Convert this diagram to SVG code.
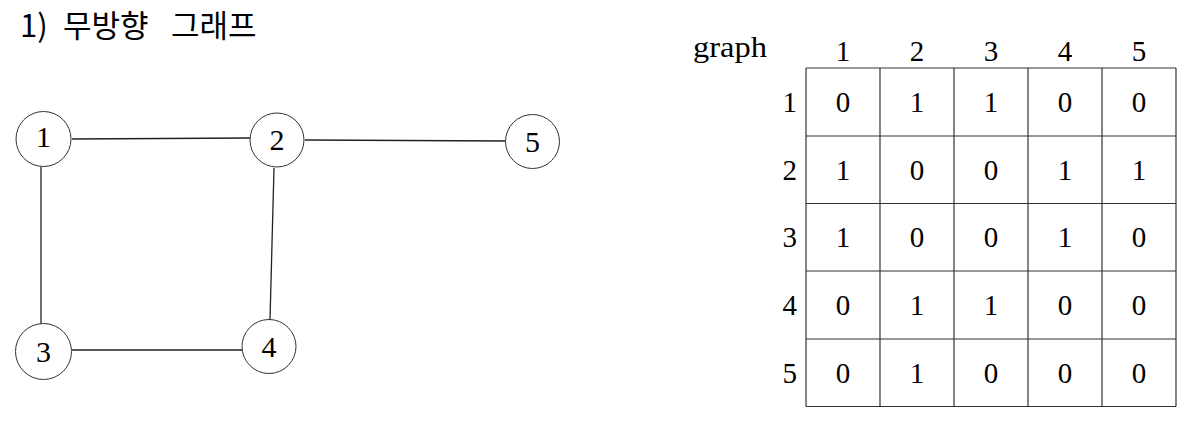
<svg xmlns="http://www.w3.org/2000/svg" width="1198" height="422" viewBox="0 0 1198 422">
<style>
.title{font-family:"Noto Sans CJK KR","Noto Sans",sans-serif;font-size:31px;fill:#000}
.node circle{fill:#fff;stroke:#333;stroke-width:1}
.lbl{font-family:"Liberation Serif","DejaVu Serif",serif;font-size:30px;fill:#000;text-anchor:middle}
.edges line{stroke:#222;stroke-width:1.3}
.grid line{stroke:#333;stroke-width:1.2}
.cell{font-family:"Liberation Serif","DejaVu Serif",serif;font-size:29px;fill:#000;text-anchor:middle}
.hd{font-size:29px}
.rh{text-anchor:end}
</style>
<rect width="1198" height="422" fill="#fff"/>
<text class="title" y="37"><tspan x="20">1)</tspan><tspan x="63">무방향</tspan><tspan x="171">그래프</tspan></text>
<g class="edges">
<line x1="72" y1="139" x2="251" y2="138"/>
<line x1="305" y1="140" x2="506" y2="141"/>
<line x1="41" y1="167" x2="41" y2="324"/>
<line x1="274" y1="168" x2="270" y2="320"/>
<line x1="72" y1="350" x2="242" y2="350"/>
</g>
<g id="node1" class="node"><circle cx="43.5" cy="139" r="27.5"/><text class="lbl" x="43.5" y="147">1</text></g>
<g id="node2" class="node"><circle cx="277" cy="140" r="27"/><text class="lbl" x="277" y="150">2</text></g>
<g id="node3" class="node"><circle cx="43.5" cy="351.5" r="28"/><text class="lbl" x="43.5" y="362">3</text></g>
<g id="node4" class="node"><circle cx="269" cy="346.5" r="27"/><text class="lbl" x="269" y="357">4</text></g>
<g id="node5" class="node"><circle cx="532.5" cy="141.5" r="27"/><text class="lbl" x="532.5" y="152">5</text></g>
<g id="matrix">
<g class="grid">
<line x1="806" y1="68" x2="1176" y2="68"/>
<line x1="806" y1="136" x2="1176" y2="136"/>
<line x1="806" y1="203.5" x2="1176" y2="203.5"/>
<line x1="806" y1="271" x2="1176" y2="271"/>
<line x1="806" y1="339" x2="1176" y2="339"/>
<line x1="806" y1="406.5" x2="1176" y2="406.5"/>
<line x1="806" y1="68" x2="806" y2="406.5"/>
<line x1="880" y1="68" x2="880" y2="406.5"/>
<line x1="954" y1="68" x2="954" y2="406.5"/>
<line x1="1028" y1="68" x2="1028" y2="406.5"/>
<line x1="1102" y1="68" x2="1102" y2="406.5"/>
<line x1="1176" y1="68" x2="1176" y2="406.5"/>
</g>
<text class="cell" x="693" y="57" style="text-anchor:start" textLength="74" lengthAdjust="spacingAndGlyphs">graph</text>
<text class="cell hd" x="843" y="61">1</text>
<text class="cell hd" x="917" y="61">2</text>
<text class="cell hd" x="991" y="61">3</text>
<text class="cell hd" x="1065" y="61">4</text>
<text class="cell hd" x="1139" y="61">5</text>
<g>
<text class="cell rh" x="797" y="112">1</text>
<text class="cell" x="843" y="112">0</text><text class="cell" x="917" y="112">1</text><text class="cell" x="991" y="112">1</text><text class="cell" x="1065" y="112">0</text><text class="cell" x="1139" y="112">0</text>
</g>
<g>
<text class="cell rh" x="797" y="180">2</text>
<text class="cell" x="843" y="180">1</text><text class="cell" x="917" y="180">0</text><text class="cell" x="991" y="180">0</text><text class="cell" x="1065" y="180">1</text><text class="cell" x="1139" y="180">1</text>
</g>
<g>
<text class="cell rh" x="797" y="247">3</text>
<text class="cell" x="843" y="247">1</text><text class="cell" x="917" y="247">0</text><text class="cell" x="991" y="247">0</text><text class="cell" x="1065" y="247">1</text><text class="cell" x="1139" y="247">0</text>
</g>
<g>
<text class="cell rh" x="797" y="315">4</text>
<text class="cell" x="843" y="315">0</text><text class="cell" x="917" y="315">1</text><text class="cell" x="991" y="315">1</text><text class="cell" x="1065" y="315">0</text><text class="cell" x="1139" y="315">0</text>
</g>
<g>
<text class="cell rh" x="797" y="383">5</text>
<text class="cell" x="843" y="383">0</text><text class="cell" x="917" y="383">1</text><text class="cell" x="991" y="383">0</text><text class="cell" x="1065" y="383">0</text><text class="cell" x="1139" y="383">0</text>
</g>
</g>
</svg>
